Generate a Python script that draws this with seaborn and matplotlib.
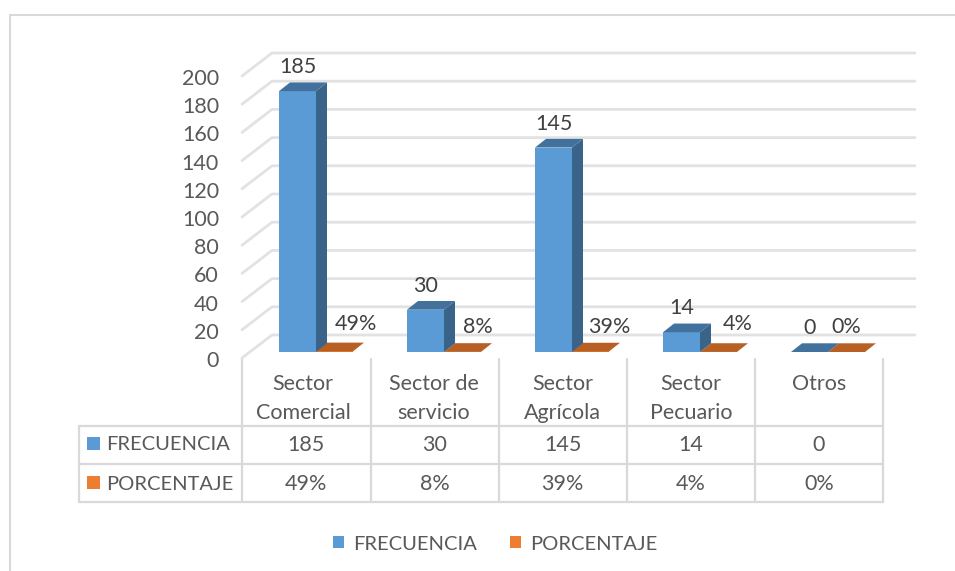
import numpy as np
import pandas as pd
import seaborn as sns
import matplotlib.pyplot as plt
from matplotlib.patches import Polygon, Rectangle

# data
categorias = ["Sector\nComercial", "Sector de\nservicio", "Sector\nAgrícola", "Sector\nPecuario", "Otros\n "]
frecuencia = [185, 30, 145, 14, 0]
porcentaje = [0.49, 0.08, 0.39, 0.04, 0.0]
ticks = list(range(0, 201, 20))

W, H = 955, 571
AZUL, NARANJA = "#5b9bd5", "#ed7d31"
AZUL_LADO, AZUL_TOPE = "#3a6389", "#41719c"
NARANJA_TOPE = "#b85f23"
GRIS, GRIS_TXT = "#d9d9d9", "#595959"
FS = 15.5      # digits and lower case
FS_MAY = 14.5  # upper case series names

sns.set_style("white")
plt.rcParams["font.family"] = ["Lato", "DejaVu Sans"]

df = pd.DataFrame({
    "cat": categorias * 2,
    "serie": ["FRECUENCIA"] * 5 + ["PORCENTAJE"] * 5,
    "valor": frecuencia + porcentaje,
})

fig = plt.figure(figsize=(W / 100, H / 100), dpi=100)

# overlay in pixel coordinates for the frame and the data table
bg = fig.add_axes([0, 0, 1, 1])
bg.set_xlim(0, W)
bg.set_ylim(H, 0)
bg.axis("off")
bg.plot([10, 10, W], [H, 15, 15], color=GRIS, lw=1.5, solid_joinstyle="miter")

# bar plane: category spacing 128 px, 1.41 px per unit
x0, x1, y0, y1 = 252, 892, 352, 70
ax = fig.add_axes([x0 / W, 1 - y0 / H, (x1 - x0) / W, (y0 - y1) / H])
ax.patch.set_alpha(0)
sns.barplot(data=df, x="cat", y="valor", hue="serie", order=categorias,
            palette=[AZUL, NARANJA], width=37 * 2 / 128, gap=0, saturation=1,
            linewidth=0, ax=ax, zorder=5)
ax.set_xlim(-0.5, 4.5)
ax.set_ylim(0, 200)
ax.set_xlabel("")
ax.set_ylabel("")
ax.set_xticks([])
ax.set_yticks([])
sns.despine(ax=ax, left=True, bottom=True)

px_x = (x1 - x0) / 5       # px per category
px_y = (y0 - y1) / 200     # px per unit

# pixel -> data helpers
def dx(p):
    return p / px_x

def dy(p):
    return p / px_y

# wall: grid lines, drawn from the scale, offset from the bar plane
front = (-10, -6)   # front edge of the floor relative to bar plane
back = (20, 17)     # back wall relative to bar plane
for t in ticks:
    xs = [-0.5 + dx(front[0]) , -0.5 + dx(back[0]), 4.5 + dx(back[0] + 3)]
    ys = [t + dy(front[1]), t + dy(back[1]), t + dy(back[1])]
    ax.plot(xs, ys, color="#e2e2e2", lw=2, clip_on=False, zorder=1)
    ax.text(-0.5 + dx(-33), t + dy(front[1] - 3), str(t), ha="right", va="center",
            fontsize=FS, color=GRIS_TXT, clip_on=False)

# 3D sides of each bar, from the patches seaborn made
DX, DY = dx(11), dy(8.7)
sombras = [(AZUL_TOPE, AZUL_LADO), (NARANJA_TOPE, NARANJA_TOPE)]
for k, cont in enumerate(ax.containers):
    tope, lado = sombras[k]
    for b in cont:
        xa, w, h = b.get_x(), b.get_width(), b.get_height()
        xb = xa + w
        ax.add_patch(Polygon([(xa, h), (xb, h), (xb + DX, h + DY), (xa + DX, h + DY)],
                             color=tope, lw=0, clip_on=False, zorder=6 - k))
        if h > 1:
            ax.add_patch(Polygon([(xb, 0), (xb + DX, DY), (xb + DX, h + DY), (xb, h)],
                                 color=lado, lw=0, clip_on=False, zorder=6 - k))

# data labels
nudge_pct = [(21, 28), (15, 25), (19, 25), (19, 28), (0, 25)]
for i, (f, p) in enumerate(zip(frecuencia, porcentaje)):
    bx = ax.containers[0][i].get_x() + ax.containers[0][i].get_width() / 2
    ax.annotate(str(f), (bx, f), xytext=(0, 24 * 0.72), textcoords="offset points",
                ha="center", va="center", fontsize=FS, color="#404040", zorder=8)
    ox = ax.containers[1][i].get_x() + ax.containers[1][i].get_width() / 2
    ndx, ndy = nudge_pct[i]
    ax.annotate(f"{p:.0%}", (ox, 0), xytext=(ndx * 0.72, ndy * 0.72), textcoords="offset points",
                ha="center", va="center", fontsize=FS, color="#404040", zorder=8)

# data table
vx = [242, 370.5, 498.5, 627, 755, 883]
hy = [426, 464, 502]
for v in vx:
    bg.plot([v, v], [359, 502], color=GRIS, lw=1.6)
bg.plot([79, 79], [426, 502], color=GRIS, lw=1.6)
for h_ in hy:
    bg.plot([79, 883], [h_, h_], color=GRIS, lw=1.6)

filas = [("FRECUENCIA", AZUL, [str(v) for v in frecuencia], 445),
         ("PORCENTAJE", NARANJA, [f"{v:.0%}" for v in porcentaje], 484)]
for nombre, color, vals, yy in filas:
    bg.add_patch(Rectangle((87, yy - 8.5), 13, 13, color=color, lw=0))
    bg.text(106, yy, nombre, ha="left", va="center", fontsize=FS_MAY, color=GRIS_TXT)
    for j, val in enumerate(vals):
        bg.text((vx[j] + vx[j + 1]) / 2, yy, val, ha="center", va="center",
                fontsize=FS, color=GRIS_TXT)
desplaza = [-3, -1, 0, 0, 0]  # first labels sit a little left of their cell centre
for j, c in enumerate(categorias):
    a, b = c.split("\n")
    cx = (vx[j] + vx[j + 1]) / 2 + desplaza[j]
    bg.text(cx, 384, a, ha="center", va="center", fontsize=FS, color=GRIS_TXT)
    bg.text(cx, 413, b, ha="center", va="center", fontsize=FS, color=GRIS_TXT)

# legend
sns.move_legend(ax, "center", bbox_to_anchor=(495 / W, 1 - 544 / H),
                bbox_transform=fig.transFigure, ncol=2, frameon=False, title=None,
                fontsize=FS_MAY, handlelength=0.55, handleheight=0.55, columnspacing=1.65,
                handletextpad=0.45, labelcolor=GRIS_TXT)

fig.savefig("out.png", dpi=100, facecolor="white")
